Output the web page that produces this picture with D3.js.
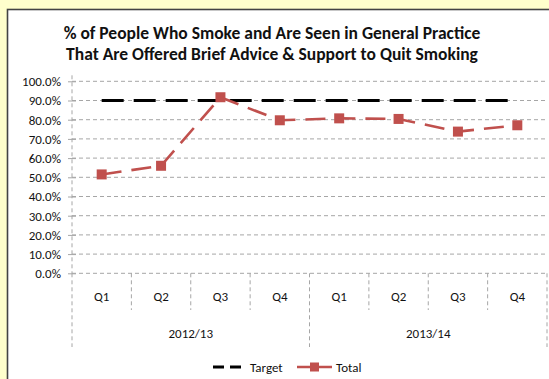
<!DOCTYPE html>
<html>
<head>
<meta charset="utf-8">
<script src="https://cdn.jsdelivr.net/npm/d3@7"></script>
<style>
  html, body { margin: 0; padding: 0; background: #ffffcc; }
  svg { display: block; }
  text { font-family: Carlito, Calibri, Lato, "Open Sans", sans-serif; fill: #111; }
</style>
</head>
<body>
<svg id="chart" width="549" height="379"></svg>
<script>
// Quarterly categories grouped by financial year
const quarters = ["Q1", "Q2", "Q3", "Q4", "Q1", "Q2", "Q3", "Q4"];
const years = ["2012/13", "2013/14"];
const yearOfQuarter = [0, 0, 0, 0, 1, 1, 1, 1];

// Series values (% of smokers offered brief advice)
const targetValues = [90, 90, 90, 90, 90, 90, 90, 90];
const totalValues = [51.5, 56.0, 91.7, 79.7, 80.7, 80.4, 73.8, 77.1];

// Y axis tick values
const yTicks = [0, 10, 20, 30, 40, 50, 60, 70, 80, 90, 100];

const svg = d3.select("#chart");
const labelSize = "13px";

// Chart area panel
svg.append("rect")
  .attr("x", 7.5).attr("y", 9.5)
  .attr("width", 600).attr("height", 400)
  .attr("fill", "#ffffff")
  .attr("stroke", "#444").attr("stroke-width", 1.6);

const plot = { left: 72, right: 547, top: 81.3, bottom: 273.3 };

const x = d3.scaleBand()
  .domain(d3.range(quarters.length))
  .range([plot.left, plot.right])
  .paddingInner(0).paddingOuter(0);

const y = d3.scaleLinear()
  .domain([0, 100])
  .range([plot.bottom, plot.top]);

const gridColor = "#a6a6a6";

// Horizontal gridlines
svg.append("g").selectAll("line")
  .data(yTicks)
  .join("line")
  .attr("x1", plot.left).attr("x2", plot.right)
  .attr("y1", d => y(d)).attr("y2", d => y(d))
  .attr("stroke", gridColor).attr("stroke-width", 1)
  .attr("stroke-dasharray", "4,3");

// Y axis
const yAxis = d3.axisLeft(y)
  .tickValues(yTicks)
  .tickSize(4)
  .tickFormat(d => d.toFixed(1) + "%");

const yg = svg.append("g")
  .attr("transform", `translate(${plot.left},0)`)
  .call(yAxis);
yg.select(".domain").remove();
yg.selectAll(".tick line")
  .attr("x1", -4).attr("x2", 4)
  .attr("stroke", gridColor);
yg.selectAll(".tick text")
  .attr("x", -11)
  .attr("dy", "0.34em")
  .style("font-size", labelSize)
  .style("font-family", "Carlito, Calibri, Lato, sans-serif")
  .attr("fill", "#111");

// Vertical axis line (dashed)
svg.append("line")
  .attr("x1", plot.left).attr("x2", plot.left)
  .attr("y1", plot.top - 6).attr("y2", plot.bottom)
  .attr("stroke", gridColor).attr("stroke-dasharray", "4,3");

// Category dividers: short between quarters, long at year boundaries
const bounds = d3.range(quarters.length + 1);
svg.append("g").selectAll("line")
  .data(bounds)
  .join("line")
  .attr("x1", i => i < quarters.length ? x(i) : plot.right)
  .attr("x2", i => i < quarters.length ? x(i) : plot.right)
  .attr("y1", plot.bottom)
  .attr("y2", i => (i % 4 === 0) ? 347 : 310)
  .attr("stroke", gridColor).attr("stroke-width", 1)
  .attr("stroke-dasharray", "4,3");

// Quarter labels
svg.append("g").selectAll("text")
  .data(quarters)
  .join("text")
  .attr("x", (d, i) => x(i) + x.bandwidth() / 2)
  .attr("y", 301)
  .attr("text-anchor", "middle")
  .style("font-size", labelSize)
  .text(d => d);

// Year labels
svg.append("g").selectAll("text")
  .data(years)
  .join("text")
  .attr("x", (d, j) => {
    const idx = yearOfQuarter.map((v, i) => v === j ? i : -1).filter(i => i >= 0);
    return (x(idx[0]) + x(idx[idx.length - 1]) + x.bandwidth()) / 2;
  })
  .attr("y", 338)
  .attr("text-anchor", "middle")
  .style("font-size", labelSize)
  .text(d => d);

const cx = i => x(i) + x.bandwidth() / 2;

// Target line
const line = d3.line().x((d, i) => cx(i)).y(d => y(d));
svg.append("path")
  .datum(targetValues)
  .attr("d", line)
  .attr("fill", "none")
  .attr("stroke", "#000")
  .attr("stroke-width", 3)
  .attr("stroke-dasharray", "22,10");

// Total line with square markers
const red = "#c0504d";
svg.append("path")
  .datum(totalValues)
  .attr("d", line)
  .attr("fill", "none")
  .attr("stroke", red)
  .attr("stroke-width", 2.6)
  .attr("stroke-dasharray", "20,10");

const ms = 10;
svg.append("g").selectAll("rect")
  .data(totalValues)
  .join("rect")
  .attr("x", (d, i) => cx(i) - ms / 2)
  .attr("y", d => y(d) - ms / 2)
  .attr("width", ms).attr("height", ms)
  .attr("fill", red);

// Title
const title = svg.append("text")
  .attr("text-anchor", "middle")
  .style("font-size", "17.5px")
  .style("font-weight", "bold");
title.append("tspan").attr("x", 272).attr("y", 39)
  .text("% of People Who Smoke and Are Seen in General Practice");
title.append("tspan").attr("x", 272).attr("y", 59.5)
  .text("That Are Offered Brief Advice & Support to Quit Smoking");

// Legend
const ly = 367;
const lg = svg.append("g");
lg.append("line")
  .attr("x1", 213).attr("x2", 245).attr("y1", ly).attr("y2", ly)
  .attr("stroke", "#000").attr("stroke-width", 3)
  .attr("stroke-dasharray", "11,6");
lg.append("text").attr("x", 250).attr("y", ly + 4.5)
  .style("font-size", labelSize).text("Target");
lg.append("line")
  .attr("x1", 297).attr("x2", 332).attr("y1", ly).attr("y2", ly)
  .attr("stroke", red).attr("stroke-width", 2.6);
lg.append("rect")
  .attr("x", 314.5 - ms / 2 + 0.5).attr("y", ly - ms / 2 + 0.5)
  .attr("width", ms - 1).attr("height", ms - 1)
  .attr("fill", red);
lg.append("text").attr("x", 336).attr("y", ly + 4.5)
  .style("font-size", labelSize).text("Total");
</script>
</body>
</html>
